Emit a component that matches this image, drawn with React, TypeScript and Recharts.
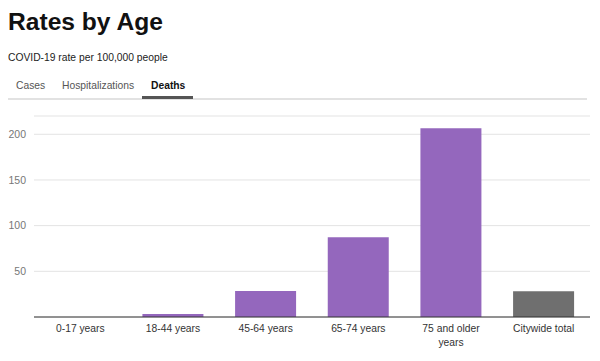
import React from "react";
import { BarChart, Bar, XAxis, YAxis, CartesianGrid, Cell } from "recharts";

const categories = ["0-17 years", "18-44 years", "45-64 years", "65-74 years", "75 and older years", "Citywide total"];
const deathRates = [0, 3.3, 28.5, 87.2, 206.6, 28.1];
const yTicks = [50, 100, 150, 200];
const tabs = ["Cases", "Hospitalizations", "Deaths"];

const data = categories.map((c, i) => ({ name: c, value: deathRates[i] }));

const FONT = "'Liberation Sans', Arial, Helvetica, sans-serif";
const PURPLE = "#9467bd";
const GRAY = "#6f6f6f";

const XTick = (props: any) => {
  const { x, y, payload } = props;
  const label: string = payload.value;
  const lines = label === "75 and older years" ? ["75 and older", "years"] : [label];
  return (
    <text x={x} y={y} textAnchor="middle" fill="#333" fontSize={10.3} fontFamily={FONT}>
      {lines.map((l, i) => (
        <tspan key={i} x={x} dy={i === 0 ? "0.71em" : "1.3em"}>
          {l}
        </tspan>
      ))}
    </text>
  );
};

export default function App() {
  return (
    <div style={{ position: "relative", width: 600, height: 361, margin: -8, background: "#fff", overflow: "hidden" }}>
      <svg width={600} height={100} style={{ position: "absolute", left: 0, top: 0 }}>
        <text x={8} y={29.5} fontSize={24.6} fontWeight="bold" fill="#111" fontFamily={FONT}>
          Rates by Age
        </text>
        <text x={8} y={61} fontSize={10.3} fill="#222" fontFamily={FONT}>
          COVID-19 rate per 100,000 people
        </text>
        <text x={16} y={89} fontSize={10.3} fill="#555" fontFamily={FONT}>
          {tabs[0]}
        </text>
        <text x={62} y={89} fontSize={10.3} fill="#555" fontFamily={FONT}>
          {tabs[1]}
        </text>
        <text x={151} y={89} fontSize={10.3} fontWeight="bold" fill="#111" fontFamily={FONT}>
          {tabs[2]}
        </text>
        <rect x={8} y={98} width={579} height={2} fill="#e2e2e2" />
        <rect x={142} y={96} width={51} height={3} fill="#555" />
      </svg>
      <div style={{ position: "absolute", left: 0, top: 100 }}>
        <BarChart
          width={600}
          height={261}
          data={data}
          margin={{ top: 16, right: 10, bottom: 4, left: 0 }}
          barCategoryGap="17%"
        >
          <CartesianGrid vertical={false} stroke="#e3e3e3" />
          <XAxis
            dataKey="name"
            axisLine={{ stroke: "#333" }}
            tickLine={false}
            interval={0}
            height={40}
            tick={<XTick />}
          />
          <YAxis
            width={34}
            domain={[0, 220]}
            ticks={yTicks}
            axisLine={false}
            tickLine={false}
            tick={{ fill: "#777", fontSize: 10.5, fontFamily: FONT }}
          />
          <Bar dataKey="value" isAnimationActive={false}>
            {data.map((d, i) => (
              <Cell key={i} fill={d.name === "Citywide total" ? GRAY : PURPLE} />
            ))}
          </Bar>
        </BarChart>
      </div>
    </div>
  );
}
